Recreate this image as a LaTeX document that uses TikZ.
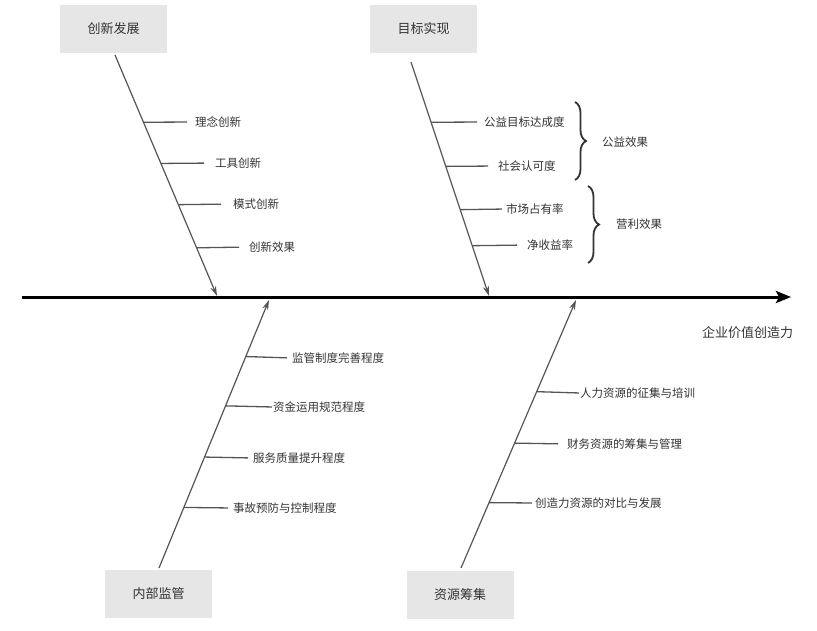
\documentclass[tikz,border=0pt]{standalone}
\usepackage{fontspec}
\newfontfamily\cjk{Noto Sans CJK SC}
\usetikzlibrary{arrows.meta,decorations.pathreplacing}
\definecolor{boxgray}{HTML}{E6E6E6}
\definecolor{txtgray}{HTML}{333333}
\definecolor{linegray}{HTML}{555555}
\tikzset{
  catbox/.style={fill=boxgray, draw=none, minimum width=107pt, minimum height=48pt, inner sep=0pt,
    font=\cjk\fontsize{13}{15}\selectfont, text=txtgray},
  lbl/.style={anchor=west, inner sep=0pt, font=\cjk\fontsize{11.5}{13}\selectfont, text=txtgray},
  bone/.style={draw=linegray, line width=1.2pt, -{Stealth[length=10pt,width=6pt]}},
  twig/.style={draw=linegray, line width=1.3pt, shorten >=7pt},
  spine/.style={draw=black, line width=3pt, -{Stealth[length=15pt,width=12pt,inset=3pt]}},
  curly/.style={draw=txtgray, line width=1.8pt, decorate, decoration={brace, amplitude=11pt}}
}
\begin{document}
\begin{tikzpicture}[x=1pt,y=-1pt]
\useasboundingbox (0,0) rectangle (817,630);
% spine
\coordinate (sp0) at (22,297);
\coordinate (sp1) at (791,297);
\draw[spine] (sp0) -- (sp1);
\node[lbl, font=\cjk\fontsize{13}{15}\selectfont] (effect) at (702,333) {企业价值创造力};
% boxes
\node[catbox] (cx) at (113.5,29) {创新发展};
\node[catbox] (mb) at (423.5,29) {目标实现};
\node[catbox] (nb) at (158.5,594) {内部监管};
\node[catbox] (zy) at (460,594.5) {资源筹集};
% bone ends
\coordinate (b1s) at (115,55);  \coordinate (b1e) at (217,296);
\coordinate (b2s) at (411,62);  \coordinate (b2e) at (489,296);
\coordinate (b3s) at (159,568); \coordinate (b3e) at (269,300);
\coordinate (b4s) at (461,568); \coordinate (b4e) at (576,300);
\draw[bone] (b1s) -- (b1e)
  coordinate[pos=0.279] (p11) coordinate[pos=0.45] (p12)
  coordinate[pos=0.621] (p13) coordinate[pos=0.80] (p14);
\draw[bone] (b2s) -- (b2e)
  coordinate[pos=0.2575] (p21) coordinate[pos=0.446] (p22)
  coordinate[pos=0.631] (p23) coordinate[pos=0.785] (p24);
\draw[bone] (b3s) -- (b3e)
  coordinate[pos=0.789] (p31) coordinate[pos=0.605] (p32)
  coordinate[pos=0.414] (p33) coordinate[pos=0.226] (p34);
\draw[bone] (b4s) -- (b4e)
  coordinate[pos=0.658] (p41) coordinate[pos=0.466] (p42)
  coordinate[pos=0.244] (p43);
% labels bone 1
\node[lbl] (t11) at (195,122) {理念创新};
\node[lbl] (t12) at (215,163) {工具创新};
\node[lbl] (t13) at (233,204) {模式创新};
\node[lbl] (t14) at (249,247) {创新效果};
% labels bone 2
\node[lbl] (t21) at (484,122) {公益目标达成度};
\node[lbl] (t22) at (498,166) {社会认可度};
\node[lbl] (t23) at (506,209) {市场占有率};
\node[lbl] (t24) at (527,245) {净收益率};
% labels bone 3
\node[lbl] (t31) at (292,358) {监管制度完善程度};
\node[lbl] (t32) at (273,407) {资金运用规范程度};
\node[lbl] (t33) at (253,458) {服务质量提升程度};
\node[lbl] (t34) at (233,508) {事故预防与控制程度};
% labels bone 4
\node[lbl] (t41) at (580,393) {人力资源的征集与培训};
\node[lbl] (t42) at (567,444) {财务资源的筹集与管理};
\node[lbl] (t43) at (535,503) {创造力资源的对比与发展};
% twigs
\foreach \p/\t/\g in {p11/t11/8, p12/t12/11, p13/t13/12, p14/t14/10,
                      p21/t21/7, p22/t22/10, p23/t23/4, p24/t24/10,
                      p31/t31/5, p32/t32/1, p33/t33/5, p34/t34/5,
                      p41/t41/1, p42/t42/9, p43/t43/3}
  \draw[twig, shorten >=\g pt] (\p) -- (\t.west);
% braces
\coordinate (br1a) at (575,102); \coordinate (br1b) at (575,180);
\coordinate (br2a) at (588,186); \coordinate (br2b) at (588,263);
\draw[curly] (br1a) -- (br1b);
\draw[curly] (br2a) -- (br2b);
\node[lbl] (g1) at (602,142) {公益效果};
\node[lbl] (g2) at (616,224) {营利效果};
\end{tikzpicture}
\end{document}
